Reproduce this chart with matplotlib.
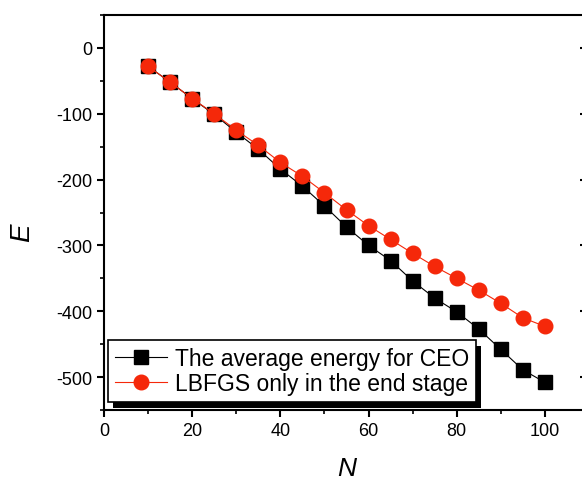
import matplotlib
matplotlib.use("Agg")
import matplotlib.pyplot as plt
from matplotlib.patches import Rectangle
from matplotlib.transforms import IdentityTransform
from matplotlib.ticker import MultipleLocator

plt.rcParams['font.family'] = ['Liberation Sans', 'DejaVu Sans']
plt.rcParams['axes.unicode_minus'] = False

# Data
n_atoms = [10, 15, 20, 25, 30, 35, 40, 45, 50, 55, 60, 65, 70, 75, 80, 85, 90, 95, 100]
e_ceo = [-28, -52, -77, -101, -128, -154, -184, -210, -240, -272, -300, -323,
         -354, -380, -401, -427, -458, -489, -508]
e_lbfgs = [-28, -52, -77, -100, -125, -148, -174, -195, -220, -246, -270, -291,
           -312, -332, -350, -368, -388, -410, -423]
labels = ['The average energy for CEO', 'LBFGS only in the end stage']

fig = plt.figure(figsize=(5.82, 4.81), dpi=100)
ax = fig.add_axes([104 / 582, 70 / 481, 485 / 582, 395 / 481])

ax.plot(n_atoms, e_ceo, color='black', lw=0.8, marker='s', ms=9.5,
        mfc='black', mec='black', label=labels[0], zorder=2)
ax.plot(n_atoms, e_lbfgs, color='#f5280a', lw=0.8, marker='o', ms=10.5,
        mfc='#f5280a', mec='#f5280a', label=labels[1], zorder=3)

ax.set_xlim(0, 110)
ax.set_ylim(-550, 50)
ax.xaxis.set_major_locator(MultipleLocator(20))
ax.xaxis.set_minor_locator(MultipleLocator(10))
ax.yaxis.set_major_locator(MultipleLocator(100))
ax.yaxis.set_minor_locator(MultipleLocator(50))

for s in ['left', 'bottom', 'top']:
    ax.spines[s].set_linewidth(1.5)
ax.spines['right'].set_visible(False)
ax.tick_params(which='major', direction='out', length=5, width=1.5,
               labelsize=13, top=False, right=False)
ax.tick_params(which='minor', direction='out', length=3, width=1.2,
               top=False, right=False)
ax.yaxis.set_tick_params(which='major', right=True)
for t in ax.yaxis.get_major_ticks():
    t.tick2line.set_marker(matplotlib.lines.TICKLEFT)
    t.tick2line.set_markersize(6.5)

ax.set_xlabel('N', fontsize=19, style='italic')
ax.set_ylabel('E', fontsize=20, style='italic')
ax.xaxis.set_label_coords(0.5, -0.117)
ax.yaxis.set_label_coords(-0.142, 0.45)

leg = ax.legend(loc='upper left', bbox_to_anchor=(0.008, 0.177), borderaxespad=0,
                fontsize=16.5, frameon=True, fancybox=False, edgecolor='black',
                framealpha=1, handlelength=2.27, handletextpad=0.35,
                borderpad=0.3, labelspacing=0.08)
leg.get_frame().set_linewidth(1.2)

fig.canvas.draw()
bb = leg.get_frame().get_window_extent()
ax.add_patch(Rectangle((bb.x0 + 5, bb.y0 - 6), bb.width, bb.height,
                       transform=IdentityTransform(), facecolor='black',
                       edgecolor='none', zorder=4.9, clip_on=False))

fig.savefig('out.png', dpi=100)
